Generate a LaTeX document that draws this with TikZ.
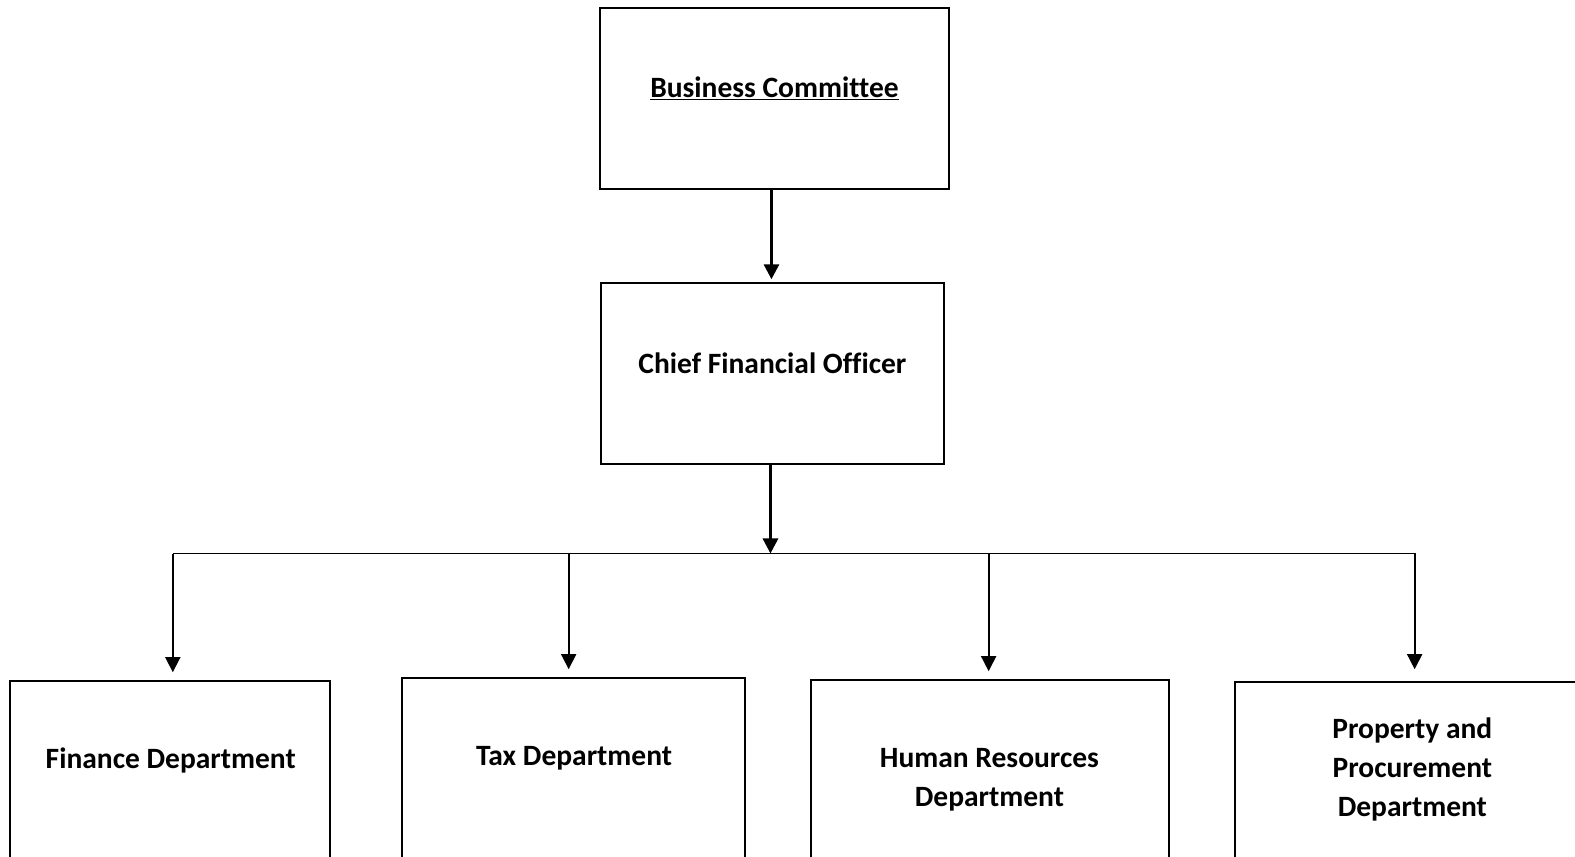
\documentclass[tikz,border=0pt]{standalone}
\usepackage{fontspec}
\setmainfont{Carlito}[Ligatures=NoCommon]
\usetikzlibrary{arrows.meta}
\begin{document}
\begin{tikzpicture}[x=1bp,y=-1bp,
  box/.style={draw=black, line width=2bp, rectangle, inner sep=0pt},
  lbl/.style={align=center, font=\fontsize{29.5bp}{39bp}\selectfont\bfseries, inner sep=0pt},
  arr/.style={draw=black, -{Triangle[width=15bp,length=15bp]}},
  thickarr/.style={arr, line width=3bp},
  thinarr/.style={arr, line width=1.7bp},
  bus/.style={draw=black, line width=1.7bp}]
\path[use as bounding box, clip] (0,0) rectangle (1575,856);
\fill[white] (0,0) rectangle (1575,856);
\begin{scope}[scale=1.0045]
% top boxes
\node[box, minimum width=348.6bp, minimum height=180.8bp] (bc) at (771,98) {};
\node[lbl] (bct) at (771,88) {\underline{Business Committee}};
\node[box, minimum width=342.5bp, minimum height=180.8bp] (cfo) at (769,372) {};
\node[lbl] (cfot) at (769,362) {Chief Financial Officer};
% bottom boxes
\node[box, minimum width=320.4bp, minimum height=300bp, anchor=north] (fin) at (169.5,677) {};
\node[lbl] (fint) at (170,756.6) {Finance Department};
\node[box, minimum width=342.5bp, minimum height=300bp, anchor=north] (tax) at (571,674) {};
\node[lbl] (taxt) at (571.5,754.6) {Tax Department};
\node[box, minimum width=358.6bp, minimum height=300bp, anchor=north] (hr) at (985.5,676) {};
\node[lbl] (hrt) at (985,776.5) {Human Resources\\Department};
\node[box, minimum width=351.6bp, minimum height=300bp, anchor=north] (pp) at (1404,678) {};
\node[lbl] (ppt) at (1406,766.5) {Property and\\Procurement\\Department};
% bus
\coordinate (busL) at (172,551);
\coordinate (busR) at (1409,551);
\coordinate (d1) at (172,551);
\coordinate (d2) at (566,551);
\coordinate (d3) at (984,551);
\coordinate (d4) at (1408,551);
\draw[bus] (busL) -- (busR);
% arrows
\draw[thickarr, shorten >=4bp] (bc.south -| 768,0) -- (768,282);
\draw[thickarr] (cfo.south -| 767,0) -- (767,551);
\draw[thinarr, shorten >=8bp] (d1) -- (d1 |- fin.north);
\draw[thinarr, shorten >=8bp] (d2) -- (d2 |- tax.north);
\draw[thinarr, shorten >=8bp] (d3) -- (d3 |- hr.north);
\draw[thinarr, shorten >=12bp] (d4) -- (d4 |- pp.north);
\end{scope}
\end{tikzpicture}
\end{document}
